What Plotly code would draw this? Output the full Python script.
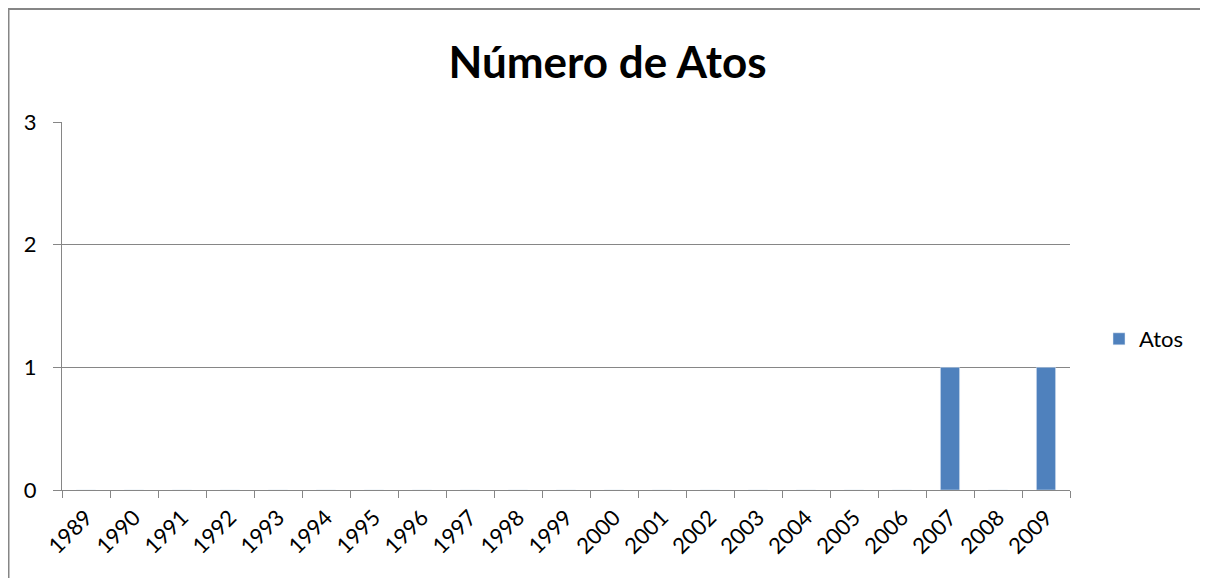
import plotly.graph_objects as go

years = [str(y) for y in range(1989, 2010)]
atos = [0, 0, 0, 0, 0, 0, 0, 0, 0, 0, 0, 0, 0, 0, 0, 0, 0, 0, 1, 0, 1]
series_name = "Atos"
title_text = "Número de Atos"

# page body has an 8px margin, so the figure is drawn 8px right/down
OFF = 8
W, H = 1200, 570
L, R, T, B = 62 - OFF, 138, 122 - OFF, 88
pw, ph = W - L - R, H - T - B

def px(x):  # screen x -> paper
    return (x - OFF - L) / pw

def py(y):  # screen y -> paper
    return (H - B - (y - OFF)) / ph

gray = "#868686"
font_family = "Lato, 'Open Sans', sans-serif"

fig = go.Figure()
fig.add_trace(go.Bar(x=years, y=atos, name=series_name, marker_color="#4F81BD",
                     width=0.4, showlegend=True))

fig.update_layout(
    width=W, height=H,
    margin=dict(l=L, r=R, t=T, b=B, autoexpand=False),
    paper_bgcolor="white", plot_bgcolor="white",
    font=dict(family=font_family, size=22, color="black"),
    title=dict(text="<b>" + title_text + "</b>", x=(607.5 - OFF) / W, xanchor="center",
               xref="container", y=1 - (63 - OFF) / H, yanchor="middle", yref="container",
               font=dict(family=font_family, size=44, color="black")),
    showlegend=True,
    legend=dict(x=px(1099), xanchor="left", y=py(339), yanchor="middle",
                font=dict(size=22), bgcolor="rgba(0,0,0,0)"),
    xaxis=dict(type="category", tickson="boundaries", ticks="outside", ticklen=7,
               tickcolor=gray, showline=True, linecolor=gray, linewidth=1,
               showgrid=False, tickangle=-45, tickfont=dict(size=22),
               ticklabelstandoff=5,
               range=[-0.5, len(years) - 0.5], fixedrange=True),
    yaxis=dict(range=[0, 3], dtick=1, ticks="outside", ticklen=8, tickcolor=gray,
               showline=True, linecolor=gray, linewidth=1, showgrid=True,
               gridcolor=gray, gridwidth=1, zeroline=False, tickfont=dict(size=22),
               ticklabelstandoff=12, fixedrange=True),
)

# outer chart border (left and top edges visible)
fig.add_shape(type="line", xref="paper", yref="paper",
              x0=px(8.5), x1=px(8.5), y0=py(8), y1=py(600),
              line=dict(color=gray, width=2))
fig.add_shape(type="line", xref="paper", yref="paper",
              x0=px(8), x1=px(1215), y0=py(9), y1=py(9),
              line=dict(color=gray, width=2))

fig.write_html("out.html")
